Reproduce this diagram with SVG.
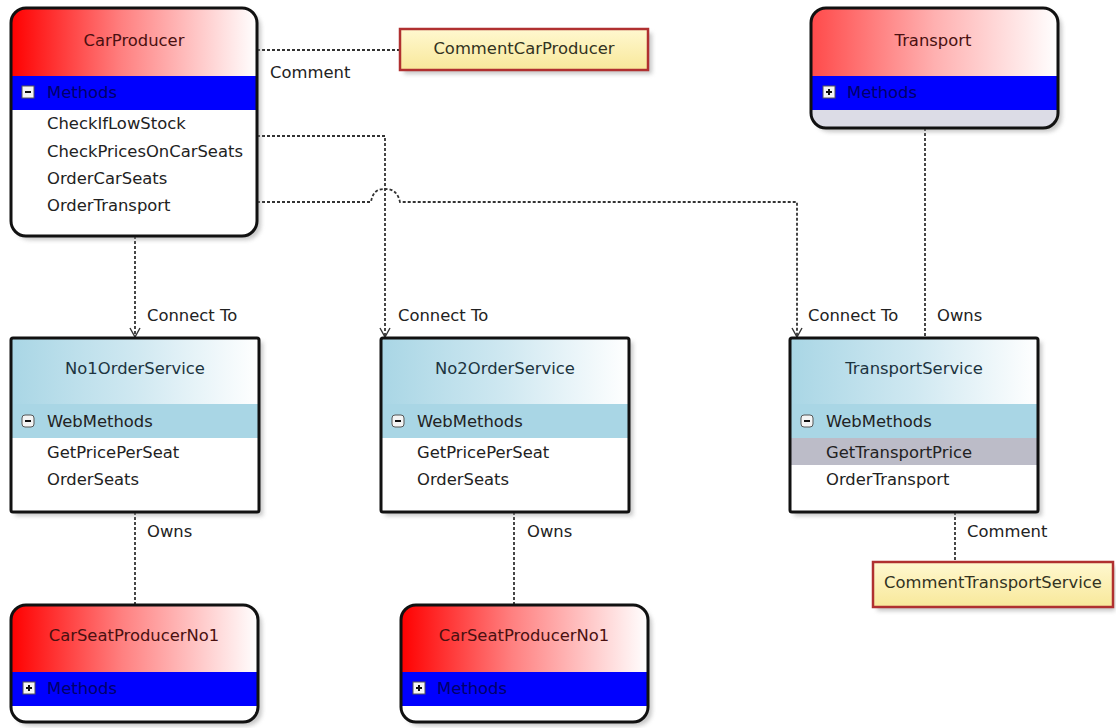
<svg xmlns="http://www.w3.org/2000/svg" width="1116" height="728" viewBox="0 0 1116 728">
  <defs>
    <style>
      text { font-family: "DejaVu Sans", "Liberation Sans", sans-serif; font-size: 16.4px; }
      .title { text-anchor: middle; fill: #4a1010; }
      .stitle { text-anchor: middle; fill: #1c3440; }
      .band { fill: #0000ff; }
      .bandtext { fill: #00006a; }
      .sband { fill: #a9d6e5; }
      .item { fill: #222222; }
      .border { fill: none; stroke: #111111; stroke-width: 3; }
      .shadow { fill: #9a9a9a; opacity: 0.55; filter: url(#blur); }
      .conn { fill: none; stroke: #333333; stroke-width: 1.8; stroke-dasharray: 3 2; }
      .lbl { fill: #222222; }
      .note { fill: url(#noteGrad); stroke: #b03030; stroke-width: 2.5; }
      .notetext { text-anchor: middle; fill: #333322; }
      .icon { fill: #f4f4f4; stroke: #555555; stroke-width: 1; }
      .iconmark { stroke: #111111; stroke-width: 2; }
    </style>
    <filter id="blur" x="-10%" y="-10%" width="120%" height="120%">
      <feGaussianBlur stdDeviation="2"/>
    </filter>
    <linearGradient id="redGrad" x1="0" y1="0" x2="1" y2="0">
      <stop offset="0" stop-color="#ff0000"/>
      <stop offset="0.45" stop-color="#ff8080"/>
      <stop offset="1" stop-color="#ffffff"/>
    </linearGradient>
    <linearGradient id="paleRedGrad" x1="0" y1="0" x2="1" y2="0">
      <stop offset="0" stop-color="#ff4a4a"/>
      <stop offset="0.5" stop-color="#ffb0b0"/>
      <stop offset="1" stop-color="#ffffff"/>
    </linearGradient>
    <linearGradient id="blueGrad" x1="0" y1="0" x2="1" y2="0">
      <stop offset="0" stop-color="#a9d6e5"/>
      <stop offset="0.5" stop-color="#cfe8f1"/>
      <stop offset="1" stop-color="#ffffff"/>
    </linearGradient>
    <linearGradient id="noteGrad" x1="0" y1="0" x2="0" y2="1">
      <stop offset="0" stop-color="#fff8d0"/>
      <stop offset="1" stop-color="#f8e89a"/>
    </linearGradient>
    <!-- open V arrowhead, drawn pointing along +x -->
    <marker id="openArrow" viewBox="0 0 12 12" refX="11" refY="6" markerWidth="12" markerHeight="12" markerUnits="userSpaceOnUse" orient="auto">
      <path d="M2,1 L11,6 L2,11" fill="none" stroke="#333333" stroke-width="1.4"/>
    </marker>
    <clipPath id="clipCarProducer"><rect x="11" y="8" width="246" height="228" rx="15"/></clipPath>
    <clipPath id="clipTransport"><rect x="811" y="8" width="247" height="120" rx="15"/></clipPath>
    <clipPath id="clipSeat1"><rect x="11" y="605" width="247" height="117" rx="15"/></clipPath>
    <clipPath id="clipSeat2"><rect x="401" y="605" width="247" height="117" rx="15"/></clipPath>
  </defs>

  <rect width="1116" height="728" fill="#ffffff"/>

  <!-- connectors -->
  <g id="connectors">
    <path class="conn" d="M257,50 L400,50"/>
    <path class="conn" d="M135,236 L135,337" marker-end="url(#openArrow)"/>
    <path class="conn" d="M257,136 L385,136 L385,337" marker-end="url(#openArrow)"/>
    <path class="conn" d="M257,202 L371,202 C373,189 381,189 385,189 C389,189 397,189 400,202 L797,202 L797,337" marker-end="url(#openArrow)"/>
    <path class="conn" d="M925,128 L925,338"/>
    <path class="conn" d="M135,512 L135,605"/>
    <path class="conn" d="M514,512 L514,605"/>
    <path class="conn" d="M955,512 L955,562"/>
    <text class="lbl" x="270" y="78">Comment</text>
    <text class="lbl" x="147" y="321">Connect To</text>
    <text class="lbl" x="398" y="321">Connect To</text>
    <text class="lbl" x="808" y="321">Connect To</text>
    <text class="lbl" x="937" y="321">Owns</text>
    <text class="lbl" x="147" y="537">Owns</text>
    <text class="lbl" x="527" y="537">Owns</text>
    <text class="lbl" x="967" y="537">Comment</text>
  </g>

  <!-- CarProducer -->
  <g id="CarProducer">
    <rect class="shadow" x="15" y="12" width="246" height="228" rx="15"/>
    <g clip-path="url(#clipCarProducer)">
      <rect x="11" y="8" width="246" height="228" fill="#ffffff"/>
      <rect x="11" y="8" width="246" height="68" fill="url(#redGrad)"/>
      <rect class="band" x="11" y="76" width="246" height="34"/>
    </g>
    <rect class="border" x="11" y="8" width="246" height="228" rx="15"/>
    <text class="title" x="134" y="46">CarProducer</text>
    <rect class="icon" x="22" y="86" width="12" height="12"/>
    <line class="iconmark" x1="25" y1="92" x2="31" y2="92"/>
    <text class="bandtext" x="47" y="98">Methods</text>
    <text class="item" x="47" y="129">CheckIfLowStock</text>
    <text class="item" x="47" y="157">CheckPricesOnCarSeats</text>
    <text class="item" x="47" y="184">OrderCarSeats</text>
    <text class="item" x="47" y="211">OrderTransport</text>
  </g>

  <!-- CommentCarProducer -->
  <g id="CommentCarProducer">
    <rect class="shadow" x="404" y="33" width="248" height="41"/>
    <rect class="note" x="400" y="29" width="248" height="41"/>
    <text class="notetext" x="524" y="54">CommentCarProducer</text>
  </g>

  <!-- Transport -->
  <g id="Transport">
    <rect class="shadow" x="815" y="12" width="247" height="120" rx="15"/>
    <g clip-path="url(#clipTransport)">
      <rect x="811" y="8" width="247" height="120" fill="#dcdce6"/>
      <rect x="811" y="8" width="247" height="68" fill="url(#paleRedGrad)"/>
      <rect class="band" x="811" y="76" width="247" height="34"/>
    </g>
    <rect class="border" x="811" y="8" width="247" height="120" rx="15"/>
    <text class="title" x="933" y="46">Transport</text>
    <rect class="icon" x="823" y="86" width="12" height="12"/>
    <line class="iconmark" x1="826" y1="92" x2="832" y2="92"/>
    <line class="iconmark" x1="829" y1="89" x2="829" y2="95"/>
    <text class="bandtext" x="847" y="98">Methods</text>
  </g>

  <!-- No1OrderService -->
  <g id="No1OrderService">
    <rect class="shadow" x="15" y="342" width="248" height="174"/>
    <rect x="11" y="338" width="248" height="174" fill="#ffffff"/>
    <rect x="11" y="338" width="248" height="66" fill="url(#blueGrad)"/>
    <rect class="sband" x="11" y="404" width="248" height="34"/>
    <rect class="border" x="11" y="338" width="248" height="174" rx="2"/>
    <text class="stitle" x="135" y="374">No1OrderService</text>
    <rect class="icon" x="22" y="415" width="12" height="12" rx="3"/>
    <line class="iconmark" x1="25" y1="421" x2="31" y2="421"/>
    <text class="item" x="47" y="427">WebMethods</text>
    <text class="item" x="47" y="458">GetPricePerSeat</text>
    <text class="item" x="47" y="485">OrderSeats</text>
  </g>

  <!-- No2OrderService -->
  <g id="No2OrderService">
    <rect class="shadow" x="385" y="342" width="248" height="174"/>
    <rect x="381" y="338" width="248" height="174" fill="#ffffff"/>
    <rect x="381" y="338" width="248" height="66" fill="url(#blueGrad)"/>
    <rect class="sband" x="381" y="404" width="248" height="34"/>
    <rect class="border" x="381" y="338" width="248" height="174" rx="2"/>
    <text class="stitle" x="505" y="374">No2OrderService</text>
    <rect class="icon" x="392" y="415" width="12" height="12" rx="3"/>
    <line class="iconmark" x1="395" y1="421" x2="401" y2="421"/>
    <text class="item" x="417" y="427">WebMethods</text>
    <text class="item" x="417" y="458">GetPricePerSeat</text>
    <text class="item" x="417" y="485">OrderSeats</text>
  </g>

  <!-- TransportService -->
  <g id="TransportService">
    <rect class="shadow" x="794" y="342" width="248" height="174"/>
    <rect x="790" y="338" width="248" height="174" fill="#ffffff"/>
    <rect x="790" y="338" width="248" height="66" fill="url(#blueGrad)"/>
    <rect class="sband" x="790" y="404" width="248" height="34"/>
    <rect x="790" y="438" width="248" height="27" fill="#bcbcc8"/>
    <rect class="border" x="790" y="338" width="248" height="174" rx="2"/>
    <text class="stitle" x="914" y="374">TransportService</text>
    <rect class="icon" x="801" y="415" width="12" height="12" rx="3"/>
    <line class="iconmark" x1="804" y1="421" x2="810" y2="421"/>
    <text class="item" x="826" y="427">WebMethods</text>
    <text class="item" x="826" y="458">GetTransportPrice</text>
    <text class="item" x="826" y="485">OrderTransport</text>
  </g>

  <!-- CommentTransportService -->
  <g id="CommentTransportService">
    <rect class="shadow" x="877" y="566" width="238" height="45"/>
    <rect class="note" x="873" y="562" width="240" height="45"/>
    <text class="notetext" x="993" y="588">CommentTransportService</text>
  </g>

  <!-- CarSeatProducerNo1 (left) -->
  <g id="CarSeatProducerNo1_a">
    <rect class="shadow" x="15" y="609" width="247" height="117" rx="15"/>
    <g clip-path="url(#clipSeat1)">
      <rect x="11" y="605" width="247" height="117" fill="#ffffff"/>
      <rect x="11" y="605" width="247" height="67" fill="url(#redGrad)"/>
      <rect class="band" x="11" y="672" width="247" height="34"/>
    </g>
    <rect class="border" x="11" y="605" width="247" height="117" rx="15"/>
    <text class="title" x="134" y="641">CarSeatProducerNo1</text>
    <rect class="icon" x="23" y="682" width="12" height="12"/>
    <line class="iconmark" x1="26" y1="688" x2="32" y2="688"/>
    <line class="iconmark" x1="29" y1="685" x2="29" y2="691"/>
    <text class="bandtext" x="47" y="694">Methods</text>
  </g>

  <!-- CarSeatProducerNo1 (right) -->
  <g id="CarSeatProducerNo1_b">
    <rect class="shadow" x="405" y="609" width="247" height="117" rx="15"/>
    <g clip-path="url(#clipSeat2)">
      <rect x="401" y="605" width="247" height="117" fill="#ffffff"/>
      <rect x="401" y="605" width="247" height="67" fill="url(#redGrad)"/>
      <rect class="band" x="401" y="672" width="247" height="34"/>
    </g>
    <rect class="border" x="401" y="605" width="247" height="117" rx="15"/>
    <text class="title" x="524" y="641">CarSeatProducerNo1</text>
    <rect class="icon" x="413" y="682" width="12" height="12"/>
    <line class="iconmark" x1="416" y1="688" x2="422" y2="688"/>
    <line class="iconmark" x1="419" y1="685" x2="419" y2="691"/>
    <text class="bandtext" x="437" y="694">Methods</text>
  </g>
</svg>
